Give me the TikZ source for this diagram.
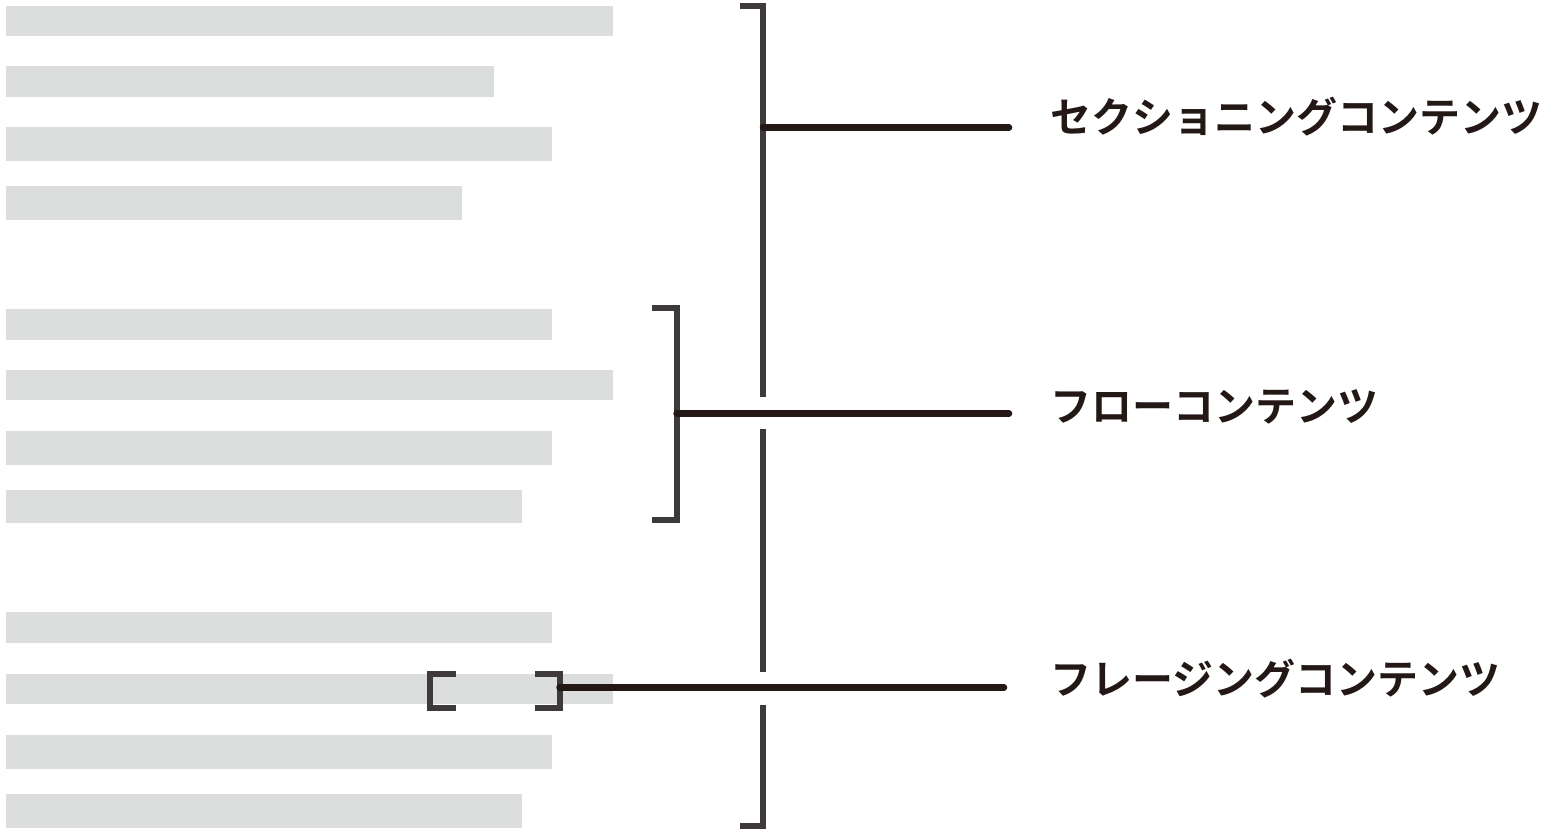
\documentclass[tikz,border=0pt]{standalone}
\usepackage{fontspec}
\newfontfamily\jp{Noto Sans CJK JP}[BoldFont={Noto Sans CJK JP Bold}]
\definecolor{bargray}{HTML}{DCDDDD}
\definecolor{brk}{HTML}{3E3A39}
\definecolor{ink}{HTML}{231815}
\begin{document}
\begin{tikzpicture}[x=1pt,y=-1pt,
  bar/.style={fill=bargray,draw=none},
  brack/.style={draw=brk,line width=6pt,line cap=butt,line join=miter},
  lead/.style={draw=ink,line width=6.5pt,line cap=round},
  lbl/.style={anchor=base west,inner sep=0pt,text=ink,font=\jp\bfseries\fontsize{41}{41}\selectfont}]
\useasboundingbox (0,0) rectangle (1546,834);
% group 1
\fill[bar] (6,6) rectangle (613,36);
\fill[bar] (6,66) rectangle (494,97);
\fill[bar] (6,127) rectangle (552,161);
\fill[bar] (6,186) rectangle (462,220);
% group 2
\fill[bar] (6,309) rectangle (552,340);
\fill[bar] (6,370) rectangle (613,400);
\fill[bar] (6,431) rectangle (552,465);
\fill[bar] (6,490) rectangle (522,523);
% group 3
\fill[bar] (6,612) rectangle (552,643);
\fill[bar] (6,674) rectangle (613,704);
\fill[bar] (6,735) rectangle (552,769);
\fill[bar] (6,794) rectangle (522,828);
% big bracket
\draw[brack] (740,6) -- (763,6) -- (763,397);
\draw[brack] (763,429) -- (763,672);
\draw[brack] (763,705) -- (763,826) -- (740,826);
% middle bracket
\draw[brack] (652,307.5) -- (676.5,307.5) -- (676.5,519.5) -- (652,519.5);
% small brackets
\draw[brack] (455.5,674) -- (430,674) -- (430,708) -- (455.5,708);
\draw[brack] (535,674) -- (559.5,674) -- (559.5,708) -- (535,708);
% connectors
\coordinate (s1) at (763,127.5);
\coordinate (s2) at (676.5,413.5);
\coordinate (s3) at (559.5,687.5);
\coordinate (e1) at (1009,127.5);
\coordinate (e2) at (1009,413.5);
\coordinate (e3) at (1004,687.5);
\draw[lead] (s1) -- (e1);
\draw[lead] (s2) -- (e2);
\draw[lead] (s3) -- (e3);
% labels
\node[lbl] (l1) at (1050,133) {セクショニングコンテンツ};
\node[lbl] (l2) at (1050,421) {フローコンテンツ};
\node[lbl] (l3) at (1050,694) {フレージングコンテンツ};
\end{tikzpicture}
\end{document}
